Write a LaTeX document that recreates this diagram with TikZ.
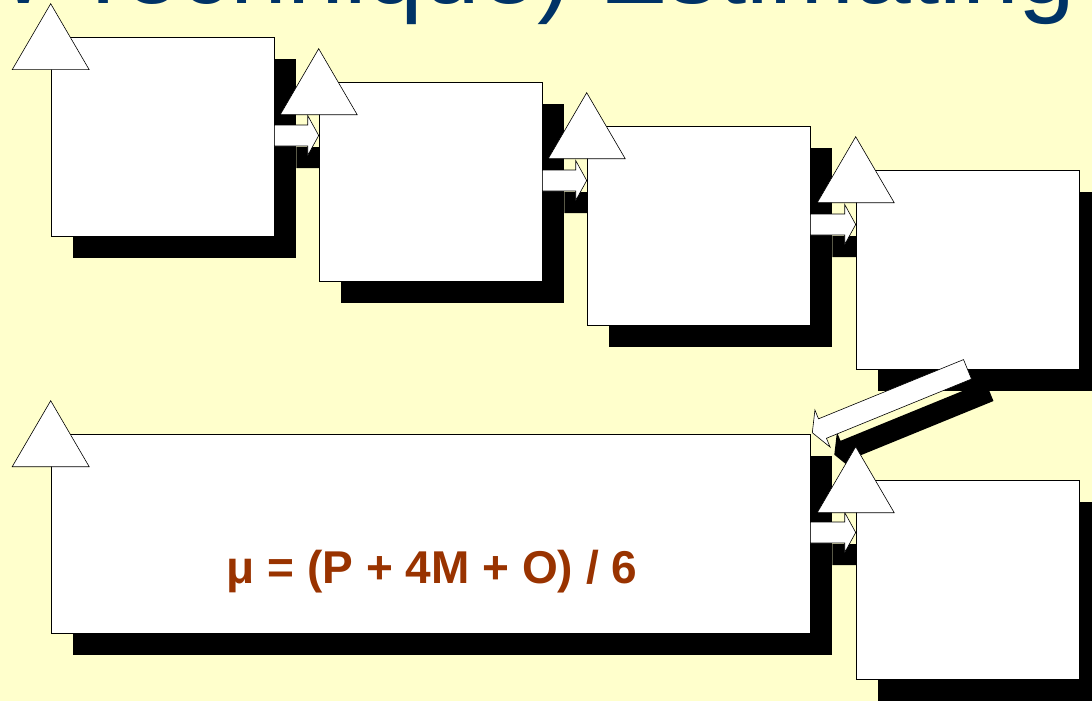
\documentclass[tikz,border=0pt]{standalone}
\usepackage{fontspec}
\setmainfont{Liberation Sans}
\usetikzlibrary{calc,shadows}
\definecolor{bgc}{RGB}{255,255,204}
\definecolor{titlec}{RGB}{0,51,102}
\definecolor{formc}{RGB}{153,51,0}
\pgfdeclarelayer{backg}
\pgfdeclarelayer{shad}
\pgfsetlayers{backg,shad,main}
% block arrow from tail #2 to tip #3, style #1
\newcommand\blkarrow[3]{%
  \coordinate (#2b) at ($(#3)!11pt!(#2)$);
  \path[#1] ($(#2)!10.5pt!90:(#3)$) -- ($(#2b)!10.5pt!90:(#3)$) -- ($(#2b)!20pt!90:(#3)$) -- (#3)
    -- ($(#2b)!20pt!-90:(#3)$) -- ($(#2b)!10.5pt!-90:(#3)$) -- ($(#2)!10.5pt!-90:(#3)$) -- cycle;}
\begin{document}
\begin{tikzpicture}[x=1pt,y=-1pt,
  box/.style={draw=black, line width=0.6pt, fill=white, inner sep=0pt,
    minimum width=223pt, minimum height=199pt,
    drop shadow={shadow xshift=22pt, shadow yshift=-22pt, fill=black, opacity=1}},
  tri/.style={draw=black, line width=0.6pt, fill=white, line join=miter},
  barrow/.style={draw=black, line width=0.6pt, fill=white, line join=miter},
  barrowshadow/.style={fill=black}]
\useasboundingbox (0,0) rectangle (1092,701);
\begin{pgfonlayer}{backg}
\fill[bgc] (0,0) rectangle (1092,701);
\end{pgfonlayer}
\clip (0,0) rectangle (1092,701);
\node[anchor=base east, text=titlec, font=\fontsize{102}{112}\selectfont, inner sep=0pt] (title) at (1076,4) {Review Technique) Estimating};
% boxes
\node[box] (b1) at (162.5,136.5) {};
\node[box] (b2) at (430.5,181.5) {};
\node[box] (b3) at (698.5,225.5) {};
\node[box] (b4) at (967.5,269.5) {};
\node[box, minimum width=759pt] (b5) at (430.5,533.5) {};
\node[box] (b6) at (967.5,579.5) {};
\node[anchor=base, text=formc, font=\bfseries\fontsize{46}{50}\selectfont, inner sep=0pt] (mu) at (432,583) {μ = (P + 4M + O) / 6};
% arrow end points
\coordinate (t1) at ($(b1.east)+(0,-1)$); \coordinate (h1) at (b2.west |- t1);
\coordinate (t2) at ($(b2.east)+(0,-1)$); \coordinate (h2) at (b3.west |- t2);
\coordinate (t3) at ($(b3.east)+(0,-1)$); \coordinate (h3) at (b4.west |- t3);
\coordinate (t4) at (b4.south); \coordinate (h4) at ($(b5.north east)+(2,-1)$);
\coordinate (t5) at ($(b5.east)+(0,-1)$); \coordinate (h5) at (b6.west |- t5);
\foreach \i in {1,...,5}{
  \coordinate (t\i s) at ($(t\i)+(22,22)$);
  \coordinate (h\i s) at ($(h\i)+(22,22)$);
}
\begin{pgfonlayer}{shad}
\blkarrow{barrowshadow}{t1s}{h1s}
\blkarrow{barrowshadow}{t2s}{h2s}
\blkarrow{barrowshadow}{t3s}{h3s}
\blkarrow{barrowshadow}{t4s}{h4s}
\blkarrow{barrowshadow}{t5s}{h5s}
\end{pgfonlayer}
\blkarrow{barrow}{t1}{h1}
\blkarrow{barrow}{t2}{h2}
\blkarrow{barrow}{t3}{h3}
\blkarrow{barrow}{t4}{h4}
\blkarrow{barrow}{t5}{h5}
% triangles
\foreach \b in {b1,b2,b3,b4,b5,b6}{
  \draw[tri] ($(\b.north west)+(0,-33)$) -- ++(38.5,66) -- ++(-77,0) -- cycle;
}
\end{tikzpicture}
\end{document}
